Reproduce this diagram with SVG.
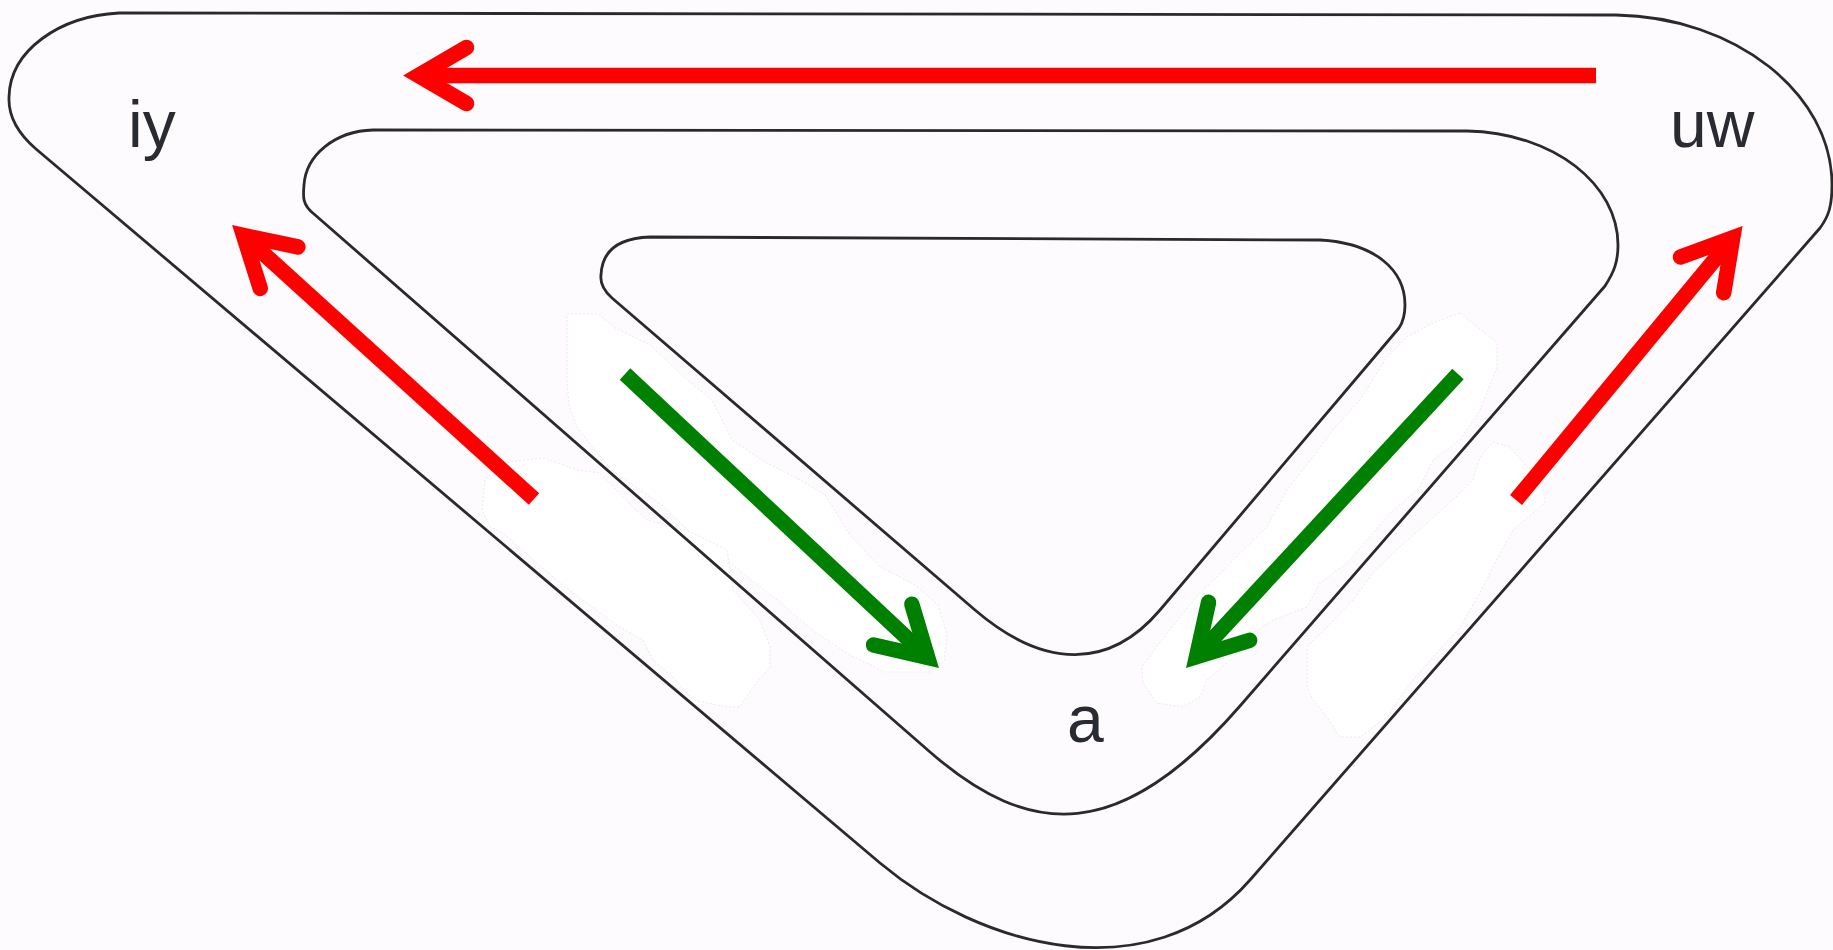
<svg xmlns="http://www.w3.org/2000/svg" width="1833" height="950" viewBox="0 0 1833 950">
  <style>
    .bg { fill: #fdfbfd; }
    .blob { fill: #ffffff; stroke: #e6e3e6; stroke-width: 0.8; stroke-dasharray: 2 2; stroke-linejoin: round; }
    .outline { fill: none; stroke: #2a2a2a; stroke-width: 2.8; stroke-linejoin: round; }
    .shaft { fill: none; stroke-width: 15.5; stroke-linecap: butt; }
    .red { stroke: #ff0000; }
    .green { stroke: #008000; }
    .label { font-family: "Liberation Sans", Arial, sans-serif; font-size: 66px; fill: #2a2a33; }
  </style>
  <defs>
    <marker id="ahRed" markerUnits="userSpaceOnUse" orient="auto" viewBox="-70 -50 90 100" markerWidth="90" markerHeight="100" refX="0" refY="0" overflow="visible">
      <path d="M-48,-28 L0,0 L-48,28" fill="none" stroke="#ff0000" stroke-width="15.5" stroke-linecap="round" stroke-linejoin="miter"/>
    </marker>
    <marker id="ahGreen" markerUnits="userSpaceOnUse" orient="auto" viewBox="-70 -50 90 100" markerWidth="90" markerHeight="100" refX="0" refY="0" overflow="visible">
      <path d="M-48,-28 L0,0 L-48,28" fill="none" stroke="#008000" stroke-width="15.5" stroke-linecap="round" stroke-linejoin="miter"/>
    </marker>
  </defs>

  <rect class="bg" x="0" y="0" width="1833" height="950"/>

  <g id="highlights">
    <path class="blob" d="M567,314 L598,314 L615,328 L650,345 L685,378 L712,400 L732,440 L765,462 L800,480 L825,495 L850,535 L880,567 L915,585 L938,605 L947,635 L944,662 L930,672 L885,672 L850,655 L815,632 L780,602 L745,575 L722,555 L690,532 L662,505 L640,490 L612,470 L595,450 L577,427 L569,405 L567,380 Z"/>
    <path class="blob" d="M482,510 L485,480 L500,463 L543,458 L577,470 L600,473 L633,507 L647,520 L693,533 L727,550 L733,590 L760,620 L770,647 L770,667 L753,687 L740,707 L727,707 L693,700 L673,677 L653,660 L643,640 L620,627 L587,603 L560,583 L537,563 L503,533 L490,527 Z"/>
    <path class="blob" d="M1460,313 L1497,343 L1497,367 L1480,410 L1460,440 L1433,460 L1420,487 L1390,513 L1373,533 L1347,563 L1320,583 L1307,607 L1273,620 L1253,633 L1233,657 L1207,680 L1200,697 L1183,707 L1157,703 L1143,683 L1142,667 L1167,633 L1200,593 L1217,577 L1240,553 L1267,527 L1287,490 L1313,457 L1333,430 L1360,400 L1387,357 L1407,337 L1433,323 Z"/>
    <path class="blob" d="M1493,442 L1510,447 L1527,467 L1543,487 L1545,503 L1533,513 L1513,530 L1500,553 L1483,587 L1460,627 L1433,657 L1407,687 L1387,717 L1360,737 L1340,737 L1327,717 L1313,700 L1307,687 L1307,647 L1327,627 L1353,600 L1373,573 L1400,547 L1427,523 L1453,500 L1473,480 L1480,457 Z"/>
  </g>

  <g id="vowel-space">
    <path id="outer" class="outline" d="M119,13 L1616,15 C1735,17 1832,93 1832,185 C1832,205 1829,216 1820,228 L1250,880 C1150,994 980,947 880,863 L36,149 C22,137 8,120 9,97 C10,50 60,16 119,13 Z"/>
    <path id="middle" class="outline" d="M373,130 L1467,131 C1555,133 1618,185 1618,245 C1618,262 1614,272 1605,286 L1240,706 C1120,844 1030,839 930,752 L314,214 C302,205 303,196 304,185 C306,155 335,131 373,130 Z"/>
    <path id="inner" class="outline" d="M650,237 L1320,240 C1375,243 1405,270 1405,305 C1405,315 1403,322 1399,328 L1160,610 C1110,669 1045,670 975,610 L612,298 C603,290 600,283 601,275 C602,250 620,238 650,237 Z"/>
  </g>

  <g id="node-iy"><text class="label" x="128" y="147">iy</text></g>
  <g id="node-uw"><text class="label" x="1670" y="147">uw</text></g>
  <g id="node-a"><text class="label" x="1067" y="742">a</text></g>

  <g id="connectors">
    <path class="shaft red" d="M1596,75.5 L418.5,75.5" marker-end="url(#ahRed)"/>
    <path class="shaft red" d="M534,499 L243.5,235.4" marker-end="url(#ahRed)"/>
    <path class="shaft red" d="M1516,500 L1732.7,237.9" marker-end="url(#ahRed)"/>
    <path class="shaft green" d="M625,374 L927.7,657.4" marker-end="url(#ahGreen)"/>
    <path class="shaft green" d="M1458,374 L1196.5,656.6" marker-end="url(#ahGreen)"/>
  </g>
</svg>
